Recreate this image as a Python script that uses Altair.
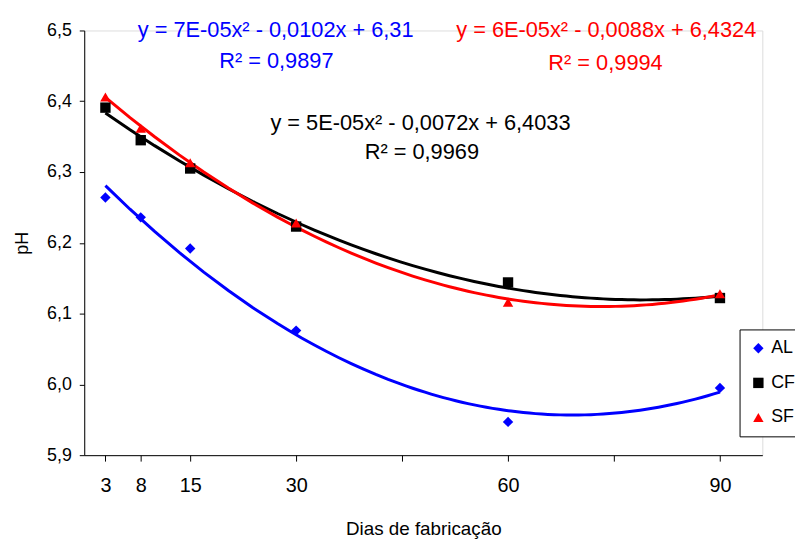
import altair as alt
import pandas as pd

# Data
days = [3, 8, 15, 30, 60, 90]
ph_AL = [6.264, 6.236, 6.192, 6.076, 5.947, 5.995]
ph_CF = [6.391, 6.345, 6.305, 6.223, 6.144, 6.122]
ph_SF = [6.406, 6.362, 6.313, 6.228, 6.116, 6.128]
series_names = ["AL", "CF", "SF"]
series_colors = ["#0000FF", "#000000", "#FF0000"]
series_shapes = ["diamond", "square", "triangle-up"]

# Trendline annotations (text, series, position in data units)
ann_text = [
    "y = 7E-05x² - 0,0102x + 6,31", "R² = 0,9897",
    "y = 6E-05x² - 0,0088x + 6,4324", "R² = 0,9994",
    "y = 5E-05x² - 0,0072x + 6,4033", "R² = 0,9969",
]
ann_series = ["AL", "AL", "SF", "SF", "CF", "CF"]
ann_x = [27.1, 27.2, 73.9, 73.8, 47.6, 47.8]
ann_y = [6.4906, 6.4463, 6.4906, 6.4440, 6.3600, 6.3180]

x_ticks = [3, 8, 15, 30, 45, 60, 75, 90]
y_ticks = [5.9, 6.0, 6.1, 6.2, 6.3, 6.4, 6.5]

rows = []
for name, vals in zip(series_names, [ph_AL, ph_CF, ph_SF]):
    for d, v in zip(days, vals):
        rows.append({"day": d, "ph": v, "series": name})
df = pd.DataFrame(rows)

ann = pd.DataFrame({"text": ann_text, "series": ann_series, "x": ann_x, "y": ann_y})

FONT = "Liberation Sans"

x_scale = alt.Scale(domain=[0, 96], nice=False, zero=False)
y_scale = alt.Scale(domain=[5.9, 6.5], nice=False, zero=False)

x_axis = alt.Axis(
    title="Dias de fabricação", values=x_ticks,
    labelExpr="datum.value == 45 || datum.value == 75 ? '' : datum.value",
    grid=False, tickSize=6, labelPadding=15, titlePadding=24,
    domainColor="black", tickColor="black", labelColor="black",
    labelFontSize=20, titleFontSize=19, titleFontWeight="normal",
    labelFont=FONT, titleFont=FONT, titleColor="black",
)
y_axis = alt.Axis(
    title="pH", values=y_ticks,
    labelExpr="replace(format(datum.value, '.1f'), '.', ',')",
    grid=False, tickSize=5, labelPadding=8, titlePadding=15,
    domainColor="black", tickColor="black", labelColor="black",
    labelFontSize=18, titleFontSize=18, titleFontWeight="normal",
    labelFont=FONT, titleFont=FONT, titleColor="black",
)

legend = alt.Legend(title=None, orient="none", legendX=662, legendY=302)

X = alt.X("day:Q", scale=x_scale, axis=x_axis)
Y = alt.Y("ph:Q", scale=y_scale, axis=y_axis)

base = alt.Chart(df)

# One trend line layer per series (constant colour), quadratic fit computed by Vega
line_layers = []
for name, col in zip(series_names, series_colors):
    line_layers.append(
        base.transform_filter(alt.datum.series == name).transform_regression(
            "day", "ph", method="poly", order=2
        ).mark_line(strokeWidth=3, color=col).encode(x=X, y=Y)
    )

points = base.mark_point(filled=True, opacity=1, size=110).encode(
    x=X,
    y=Y,
    color=alt.Color("series:N", scale=alt.Scale(domain=series_names, range=series_colors), legend=legend),
    shape=alt.Shape("series:N", scale=alt.Scale(domain=series_names, range=series_shapes), legend=legend),
)

text_layers = []
for name, col in zip(series_names, series_colors):
    text_layers.append(
        alt.Chart(ann).transform_filter(alt.datum.series == name).mark_text(
            fontSize=22, font=FONT, align="center", baseline="alphabetic", color=col
        ).encode(
            x=alt.X("x:Q", scale=x_scale, axis=x_axis),
            y=alt.Y("y:Q", scale=y_scale, axis=y_axis),
            text="text:N",
        )
    )

chart = alt.layer(*line_layers, points, *text_layers).properties(
    width=685, height=429,
    autosize=alt.AutoSizeParams(type="none"),
    padding={"left": 77, "top": 20, "right": 33, "bottom": 84},
).configure_view(stroke=None).configure(background="white").configure_legend(
    strokeColor="black", fillColor="white", padding=10,
    labelFontSize=18, labelFont=FONT, labelColor="black",
    symbolSize=110, rowPadding=17, labelOffset=4,
)

chart.save("out.html", embed_options={"renderer": "svg", "actions": False})
